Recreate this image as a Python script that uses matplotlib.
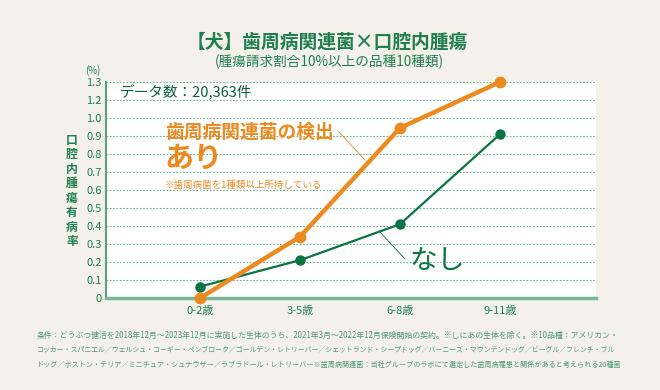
import matplotlib.pyplot as plt
from matplotlib.lines import Line2D
import numpy as np

plt.rcParams['font.family'] = ['Noto Sans CJK JP', 'DejaVu Sans']

# data (y positions on the drawn axis)
ages = ['0-2歳', '3-5歳', '6-8歳', '9-11歳']
ari = [0.0, 0.34, 0.945, 1.2]      # 歯周病関連菌 あり
nashi = [0.063, 0.21, 0.41, 0.91]  # なし
ytick_pos = np.round(np.arange(0, 1.21, 0.1), 2)
ytick_labels = ['0', '0.1', '0.2', '0.3', '0.4', '0.5', '0.6', '0.7', '0.8', '0.9', '1.0', '1.2', '1.3']

BG = '#f4f1ea'
ORANGE = '#ec8a1f'
GREEN = '#0b7443'
TXT = '#1f7f4f'
GRID = '#6ab59a'

W, H = 660, 390
fig = plt.figure(figsize=(6.6, 3.9), dpi=100, facecolor=BG)
ax = fig.add_axes([106 / W, 1 - 298 / H, (596 - 106) / W, (298 - 82) / H])
ax.set_facecolor('white')

def fx(px):
    return px / W

def fy(py):
    return 1 - py / H

x = np.arange(len(ages))
ax.plot(x, nashi, color=GREEN, lw=1.6, marker='o', ms=6.5, zorder=3, clip_on=False)
ax.plot(x, ari, color=ORANGE, lw=3.2, marker='o', ms=7.5, zorder=4, clip_on=False)

ax.set_xlim(-0.94, 3.96)
ax.set_ylim(0, 1.2)
ax.set_yticks(ytick_pos)
ax.set_yticklabels(ytick_labels)
ax.set_xticks(x)
ax.set_xticklabels(ages)
ax.tick_params(axis='both', length=0, colors=TXT, labelsize=8)
ax.tick_params(axis='y', pad=3)
ax.tick_params(axis='x', pad=6)
ax.yaxis.grid(True, color=GRID, lw=0.8, linestyle=(0, (1.5, 1.5)))
ax.set_axisbelow(True)
for s in ['top', 'right']:
    ax.spines[s].set_visible(False)
ax.spines['left'].set_color('#5a9f80')
ax.spines['left'].set_linewidth(1.5)
ax.spines['bottom'].set_color('#79b598')
ax.spines['bottom'].set_linewidth(2.5)

# titles
fig.text(fx(327), fy(42), '【犬】歯周病関連菌×口腔内腫瘍', ha='center', va='center',
         fontsize=13.5, fontweight='bold', color=TXT)
fig.text(fx(329), fy(62), '(腫瘍請求割合10%以上の品種10種類)', ha='center', va='center',
         fontsize=9.8, color=TXT)

fig.text(fx(93), fy(71), '(%)', ha='center', va='center', fontsize=7, color=TXT)
fig.text(fx(72), fy(191), '\n'.join('口腔内腫瘍有病率'), ha='center', va='center',
         fontsize=8.5, fontweight='bold', color=TXT, linespacing=1.15)

fig.text(fx(120), fy(93), 'データ数：20,363件', ha='left', va='center', fontsize=10.5, color='#0d5e3a')

# annotations
fig.text(fx(165), fy(132), '歯周病関連菌の検出', ha='left', va='center',
         fontsize=13.5, fontweight='bold', color=ORANGE)
fig.text(fx(164), fy(158), 'あり', ha='left', va='center',
         fontsize=21, fontweight='bold', color=ORANGE)
fig.text(fx(165), fy(185), '※歯周病菌を1種類以上所持している', ha='left', va='center',
         fontsize=6.8, color=ORANGE)
fig.add_artist(Line2D([fx(338), fx(365)], [fy(131), fy(160)], color=ORANGE, lw=0.6))

fig.text(fx(409), fy(262), 'なし', ha='left', va='center', fontsize=20, color=GREEN)
fig.add_artist(Line2D([fx(380), fx(405)], [fy(232), fy(259)], color=GREEN, lw=0.6))

# footnote, each line fitted to the same width
notes = [
    '条件：どうぶつ健活を2018年12月～2023年12月に実施した生体のうち、2021年3月～2022年12月保険開始の契約。※しにあの生体を除く。※10品種：アメリカン・',
    'コッカー・スパニエル／ウェルシュ・コーギー・ペンブローク／ゴールデン・レトリーバー／シェットランド・シープドッグ／バーニーズ・マウンテンドッグ／ビーグル／フレンチ・ブル',
    'ドッグ／ボストン・テリア／ミニチュア・シュナウザー／ラブラドール・レトリーバー※歯周病関連菌：当社グループのラボにて選定した歯周病罹患と関係があると考えられる20種菌',
]
renderer = fig.canvas.get_renderer()
for i, line in enumerate(notes):
    t = fig.text(fx(37), fy(335 + 15 * i), line, ha='left', va='center', fontsize=6, color='#4f9a72')
    w = t.get_window_extent(renderer).width
    t.set_fontsize(6 * (585 / w))

fig.savefig('out.png', dpi=100, facecolor=BG)
